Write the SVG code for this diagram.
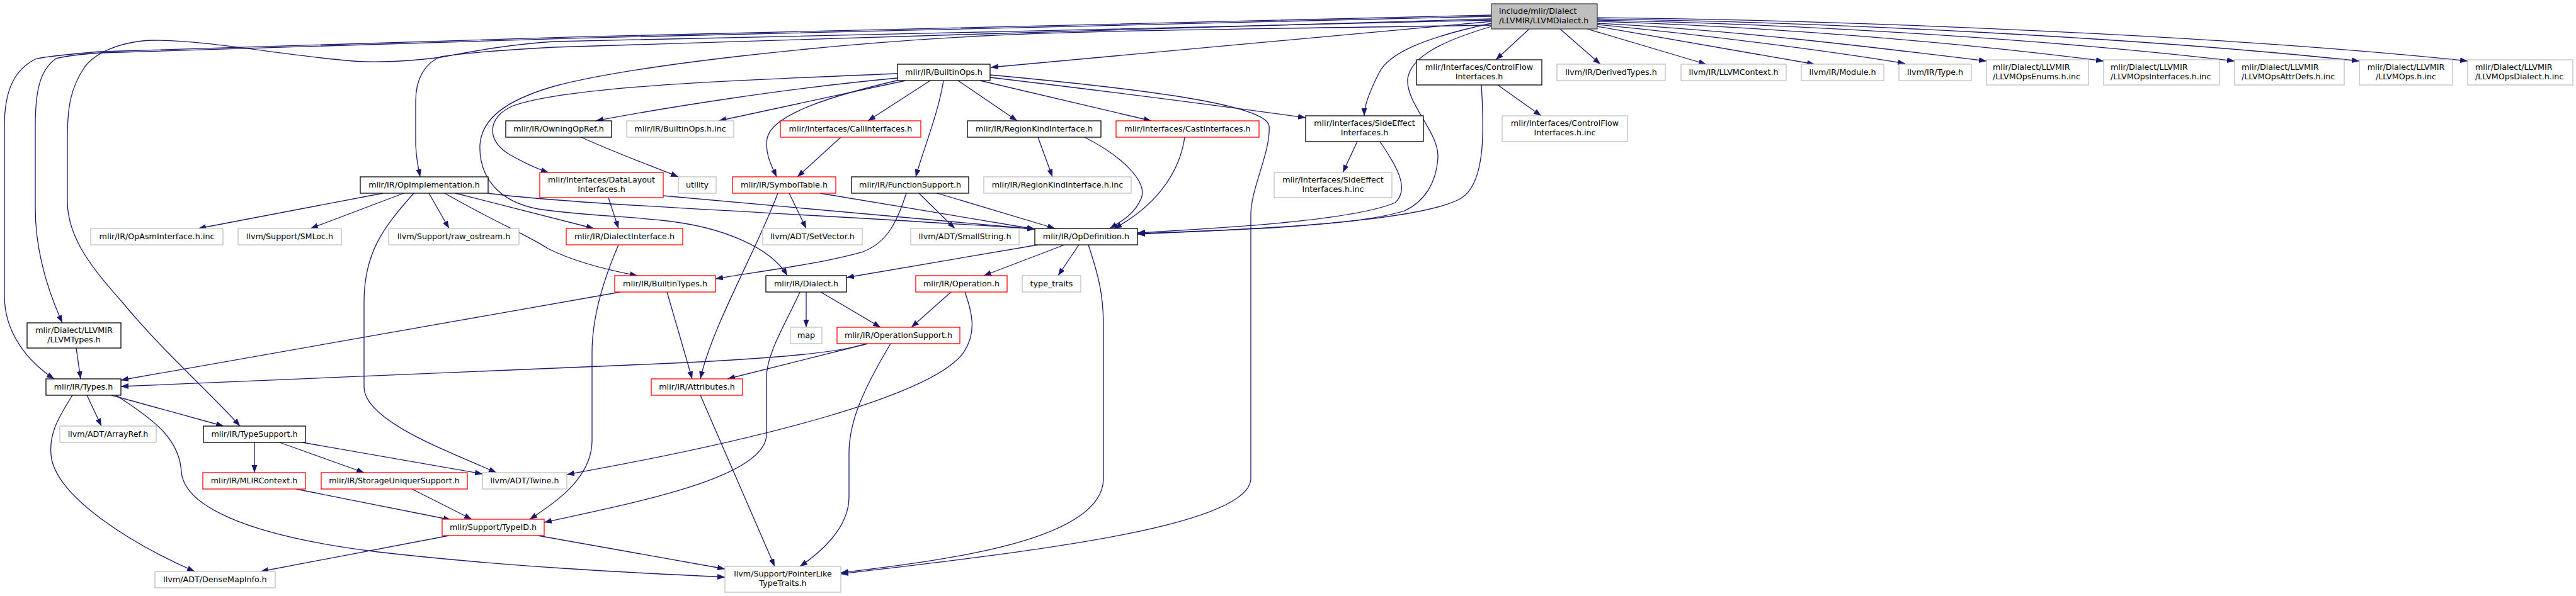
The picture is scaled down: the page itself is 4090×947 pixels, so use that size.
<svg xmlns="http://www.w3.org/2000/svg" width="4090" height="947" viewBox="0 0 4090 947">
<style>
.n rect{fill:#fff;stroke:#000;stroke-width:1.3}
.g rect{stroke:#bfbfbf}
.r rect{stroke:#ff0000}
.root rect{fill:#bfbfbf;stroke:#404040}
text{font-family:"DejaVu Sans","Liberation Sans",sans-serif;font-size:12.7px;fill:#000;text-anchor:middle}
text.l{text-anchor:start}
#edges path{fill:none;stroke:#191970;stroke-width:1.3;marker-end:url(#a)}
</style>
<defs>
<marker id="a" markerUnits="userSpaceOnUse" markerWidth="13" markerHeight="10" refX="12" refY="4.5" orient="auto"><path d="M0,0 L12,4.5 L0,9 z" fill="#191970"/></marker>
</defs>
<rect x="0" y="0" width="4090" height="947" fill="#fff"/>
<g id="edges">
<path d="M2368,34 L1573,107"/>
<path d="M2368,24 C1800,32 900,58 160,82 C110,86 70,90 56,94 C25,110 7,140 7,200 L7,470 C7,530 45,575 86,602"/>
<path d="M2368,26 C1800,34 900,60 160,84 C130,86 105,89 89,93 C65,110 56,140 56,200 L56,330 C56,400 75,460 99,513"/>
<path d="M2368,32 C2000,40 1300,58 880,66 C790,72 730,86 700,91 C650,97 600,100 560,97 C450,88 330,64 245,64 C190,65 150,85 134,107 C112,140 107,170 107,220 L107,320 C107,380 150,430 194,480 C260,560 340,630 381,677"/>
<path d="M2368,30 C2000,40 1300,62 880,75 C790,80 730,85 700,90 C675,100 660,125 660,160 L660,230 C661,255 665,270 667,281"/>
<path d="M2368,40 C2000,46 1750,48 1580,56 C1300,70 1000,105 880,137 C800,160 765,190 762,230 C760,280 790,320 854,332 C920,342 1000,344 1050,350 C1150,360 1225,395 1250,438"/>
<path d="M2368,37 C2260,60 2205,85 2190,115 C2172,150 2166,170 2166,184"/>
<path d="M2368,42 C2290,65 2240,90 2235,125 C2232,165 2285,210 2283,250 C2281,290 2262,320 2230,335 C2150,360 1950,366 1806,371"/>
<path d="M2428,46 L2375,95"/>
<path d="M2477,46 L2541,102"/>
<path d="M2520,46 L2709,102"/>
<path d="M2536,42 L2881,102"/>
<path d="M2536,39 C2700,55 2900,80 3025,101"/>
<path d="M2536,37 C2750,48 2950,72 3154,97"/>
<path d="M2536,34 C2800,42 3100,66 3340,97"/>
<path d="M2536,32 C2850,38 3250,62 3548,97"/>
<path d="M2536,30 C2900,35 3400,60 3746,97"/>
<path d="M2536,28 C2950,32 3550,58 3918,97"/>
<path d="M1425,124 C1250,140 1050,172 946,192"/>
<path d="M1438,128 L1141,192"/>
<path d="M1425,117 C1150,128 900,138 815,168 C772,186 772,225 810,246 C838,262 858,270 871,274"/>
<path d="M1428,127 C1330,150 1225,180 1218,220 C1214,245 1226,265 1233,281"/>
<path d="M1477,128 L1378,192"/>
<path d="M1498,128 C1490,180 1465,240 1454,281"/>
<path d="M1521,128 L1615,192"/>
<path d="M1556,128 L1828,192"/>
<path d="M1572,123 C1800,150 1950,170 2073,187"/>
<path d="M1572,119 C1800,140 2010,165 2015,200 C2018,240 1986,300 1986,340 L1986,760 C1986,840 1600,880 1335,912"/>
<path d="M923,218 C970,240 1030,262 1077,281"/>
<path d="M1335,218 L1266,281"/>
<path d="M1648,218 L1671,281"/>
<path d="M1722,218 C1785,250 1822,290 1812,315 C1802,340 1780,352 1762,363"/>
<path d="M1881,218 C1872,280 1830,330 1769,363"/>
<path d="M2155,225 L2132,274"/>
<path d="M2191,225 C2215,260 2240,300 2215,322 C2150,350 1950,362 1806,370"/>
<path d="M2378,135 L2447,184"/>
<path d="M2352,135 C2356,200 2360,290 2320,315 C2250,355 1950,366 1806,372"/>
<path d="M608,307 L315,363"/>
<path d="M641,307 L493,363"/>
<path d="M681,307 L713,363"/>
<path d="M723,307 L943,363"/>
<path d="M706,307 C790,355 840,375 870,395 C920,420 980,432 1012,438"/>
<path d="M657,307 C610,360 578,400 578,480 L578,615 C578,670 720,720 788,751"/>
<path d="M775,307 C900,325 1300,340 1643,364"/>
<path d="M966,314 L982,363"/>
<path d="M1053,311 L1643,364"/>
<path d="M1302,307 L1643,364"/>
<path d="M1253,307 L1280,363"/>
<path d="M1235,307 C1200,400 1130,520 1112,602"/>
<path d="M1459,307 L1516,363"/>
<path d="M1488,307 L1675,363"/>
<path d="M1439,307 C1425,350 1410,385 1370,400 C1300,420 1200,432 1136,443"/>
<path d="M1648,389 L1344,441"/>
<path d="M1690,389 L1562,438"/>
<path d="M1713,389 L1680,438"/>
<path d="M1728,389 C1745,440 1752,470 1752,520 L1752,760 C1752,860 1500,890 1335,910"/>
<path d="M982,389 C960,440 940,500 940,560 L940,700 C940,760 880,800 841,825"/>
<path d="M985,464 L192,604"/>
<path d="M1059,464 L1099,602"/>
<path d="M1280,464 L1280,520"/>
<path d="M1303,464 L1398,520"/>
<path d="M1270,464 C1250,510 1217,560 1217,600 L1217,690 C1217,760 1000,800 864,830"/>
<path d="M1510,464 L1447,520"/>
<path d="M1532,464 C1545,500 1550,530 1530,560 C1480,630 1200,700 900,754"/>
<path d="M1375,546 C1330,562 1200,572 1000,580 C700,592 400,605 192,614"/>
<path d="M1378,546 L1155,602"/>
<path d="M1414,546 C1370,620 1348,670 1348,720 L1348,790 C1348,840 1300,880 1270,900"/>
<path d="M1112,628 L1230,900"/>
<path d="M121,553 L128,602"/>
<path d="M138,628 L161,677"/>
<path d="M177,628 L355,677"/>
<path d="M115,628 C95,660 75,690 82,730 C95,790 200,860 309,908"/>
<path d="M184,628 C250,670 285,700 288,750 C292,800 380,850 600,877 C800,900 1000,910 1151,917"/>
<path d="M404,703 L404,751"/>
<path d="M444,703 L578,751"/>
<path d="M480,703 L766,753"/>
<path d="M470,777 L716,826"/>
<path d="M654,777 L749,825"/>
<path d="M713,851 L414,908"/>
<path d="M854,851 L1151,904"/>
</g>
<g id="n0" class="n root"><rect x="2368" y="6" width="168" height="40"/><text class="l" x="2380" y="22">include/mlir/Dialect</text><text class="l" x="2380" y="36.5">/LLVMIR/LLVMDialect.h</text></g>
<g id="n1" class="n"><rect x="1425" y="102" width="147" height="26"/><text x="1498.5" y="119">mlir/IR/BuiltinOps.h</text></g>
<g id="n2" class="n"><rect x="2249" y="95" width="199" height="40"/><text x="2348.5" y="111">mlir/Interfaces/ControlFlow</text><text x="2348.5" y="125.5">Interfaces.h</text></g>
<g id="n3" class="n g"><rect x="2472" y="102" width="172" height="26"/><text x="2558" y="119">llvm/IR/DerivedTypes.h</text></g>
<g id="n4" class="n g"><rect x="2669" y="102" width="167" height="26"/><text x="2752.5" y="119">llvm/IR/LLVMContext.h</text></g>
<g id="n5" class="n g"><rect x="2860" y="102" width="131" height="26"/><text x="2925.5" y="119">llvm/IR/Module.h</text></g>
<g id="n6" class="n g"><rect x="3015" y="102" width="115" height="26"/><text x="3072.5" y="119">llvm/IR/Type.h</text></g>
<g id="n7" class="n g"><rect x="3154" y="95" width="162" height="40"/><text class="l" x="3164" y="111">mlir/Dialect/LLVMIR</text><text class="l" x="3164" y="125.5">/LLVMOpsEnums.h.inc</text></g>
<g id="n8" class="n g"><rect x="3340" y="95" width="184" height="40"/><text class="l" x="3351" y="111">mlir/Dialect/LLVMIR</text><text class="l" x="3351" y="125.5">/LLVMOpsInterfaces.h.inc</text></g>
<g id="n9" class="n g"><rect x="3548" y="95" width="174" height="40"/><text class="l" x="3559" y="111">mlir/Dialect/LLVMIR</text><text class="l" x="3559" y="125.5">/LLVMOpsAttrDefs.h.inc</text></g>
<g id="n10" class="n g"><rect x="3746" y="95" width="148" height="40"/><text x="3820" y="111">mlir/Dialect/LLVMIR</text><text x="3820" y="125.5">/LLVMOps.h.inc</text></g>
<g id="n11" class="n g"><rect x="3918" y="95" width="167" height="40"/><text class="l" x="3930" y="111">mlir/Dialect/LLVMIR</text><text class="l" x="3930" y="125.5">/LLVMOpsDialect.h.inc</text></g>
<g id="n12" class="n"><rect x="803" y="192" width="168" height="26"/><text x="887" y="209">mlir/IR/OwningOpRef.h</text></g>
<g id="n13" class="n g"><rect x="995" y="192" width="170" height="26"/><text x="1080" y="209">mlir/IR/BuiltinOps.h.inc</text></g>
<g id="n14" class="n r"><rect x="1239" y="192" width="223" height="26"/><text x="1350.5" y="209">mlir/Interfaces/CallInterfaces.h</text></g>
<g id="n15" class="n"><rect x="1536" y="192" width="212" height="26"/><text x="1642" y="209">mlir/IR/RegionKindInterface.h</text></g>
<g id="n16" class="n r"><rect x="1772" y="192" width="227" height="26"/><text x="1885.5" y="209">mlir/Interfaces/CastInterfaces.h</text></g>
<g id="n17" class="n"><rect x="2073" y="184" width="187" height="41"/><text x="2166.5" y="200">mlir/Interfaces/SideEffect</text><text x="2166.5" y="214.5">Interfaces.h</text></g>
<g id="n18" class="n g"><rect x="2385" y="184" width="199" height="41"/><text x="2484.5" y="200">mlir/Interfaces/ControlFlow</text><text x="2484.5" y="214.5">Interfaces.h.inc</text></g>
<g id="n19" class="n"><rect x="572" y="281" width="203" height="26"/><text x="673.5" y="298">mlir/IR/OpImplementation.h</text></g>
<g id="n20" class="n r"><rect x="857" y="274" width="196" height="40"/><text x="955" y="290">mlir/Interfaces/DataLayout</text><text x="955" y="304.5">Interfaces.h</text></g>
<g id="n21" class="n g"><rect x="1077" y="281" width="60" height="26"/><text x="1107" y="298">utility</text></g>
<g id="n22" class="n r"><rect x="1163" y="281" width="164" height="26"/><text x="1245" y="298">mlir/IR/SymbolTable.h</text></g>
<g id="n23" class="n"><rect x="1352" y="281" width="186" height="26"/><text x="1445" y="298">mlir/IR/FunctionSupport.h</text></g>
<g id="n24" class="n g"><rect x="1562" y="281" width="234" height="26"/><text x="1679" y="298">mlir/IR/RegionKindInterface.h.inc</text></g>
<g id="n25" class="n g"><rect x="2023" y="274" width="187" height="40"/><text x="2116.5" y="290">mlir/Interfaces/SideEffect</text><text x="2116.5" y="304.5">Interfaces.h.inc</text></g>
<g id="n26" class="n g"><rect x="144" y="363" width="210" height="26"/><text x="249" y="380">mlir/IR/OpAsmInterface.h.inc</text></g>
<g id="n27" class="n g"><rect x="378" y="363" width="164" height="26"/><text x="460" y="380">llvm/Support/SMLoc.h</text></g>
<g id="n28" class="n g"><rect x="617" y="363" width="207" height="26"/><text x="720.5" y="380">llvm/Support/raw_ostream.h</text></g>
<g id="n29" class="n r"><rect x="899" y="363" width="185" height="26"/><text x="991.5" y="380">mlir/IR/DialectInterface.h</text></g>
<g id="n30" class="n g"><rect x="1211" y="363" width="158" height="26"/><text x="1290" y="380">llvm/ADT/SetVector.h</text></g>
<g id="n31" class="n g"><rect x="1446" y="363" width="172" height="26"/><text x="1532" y="380">llvm/ADT/SmallString.h</text></g>
<g id="n32" class="n"><rect x="1643" y="363" width="163" height="26"/><text x="1724.5" y="380">mlir/IR/OpDefinition.h</text></g>
<g id="n33" class="n r"><rect x="976" y="438" width="160" height="26"/><text x="1056" y="455">mlir/IR/BuiltinTypes.h</text></g>
<g id="n34" class="n"><rect x="1216" y="438" width="128" height="26"/><text x="1280" y="455">mlir/IR/Dialect.h</text></g>
<g id="n35" class="n r"><rect x="1454" y="438" width="145" height="26"/><text x="1526.5" y="455">mlir/IR/Operation.h</text></g>
<g id="n36" class="n g"><rect x="1623" y="438" width="93" height="26"/><text x="1669.5" y="455">type_traits</text></g>
<g id="n37" class="n"><rect x="43" y="513" width="149" height="40"/><text x="117.5" y="529">mlir/Dialect/LLVMIR</text><text x="117.5" y="543.5">/LLVMTypes.h</text></g>
<g id="n38" class="n g"><rect x="1255" y="520" width="50" height="26"/><text x="1280" y="537">map</text></g>
<g id="n39" class="n r"><rect x="1329" y="520" width="195" height="26"/><text x="1426.5" y="537">mlir/IR/OperationSupport.h</text></g>
<g id="n40" class="n"><rect x="73" y="602" width="119" height="26"/><text x="132.5" y="619">mlir/IR/Types.h</text></g>
<g id="n41" class="n r"><rect x="1034" y="602" width="145" height="26"/><text x="1106.5" y="619">mlir/IR/Attributes.h</text></g>
<g id="n42" class="n g"><rect x="95" y="677" width="153" height="26"/><text x="171.5" y="694">llvm/ADT/ArrayRef.h</text></g>
<g id="n43" class="n"><rect x="323" y="677" width="162" height="26"/><text x="404" y="694">mlir/IR/TypeSupport.h</text></g>
<g id="n44" class="n r"><rect x="322" y="751" width="163" height="26"/><text x="403.5" y="768">mlir/IR/MLIRContext.h</text></g>
<g id="n45" class="n r"><rect x="510" y="751" width="232" height="26"/><text x="626" y="768">mlir/IR/StorageUniquerSupport.h</text></g>
<g id="n46" class="n g"><rect x="766" y="751" width="134" height="26"/><text x="833" y="768">llvm/ADT/Twine.h</text></g>
<g id="n47" class="n r"><rect x="702" y="825" width="162" height="26"/><text x="783" y="842">mlir/Support/TypeID.h</text></g>
<g id="n48" class="n g"><rect x="246" y="908" width="191" height="26"/><text x="341.5" y="925">llvm/ADT/DenseMapInfo.h</text></g>
<g id="n49" class="n g"><rect x="1151" y="900" width="184" height="41"/><text x="1243" y="916">llvm/Support/PointerLike</text><text x="1243" y="930.5">TypeTraits.h</text></g>
</svg>
